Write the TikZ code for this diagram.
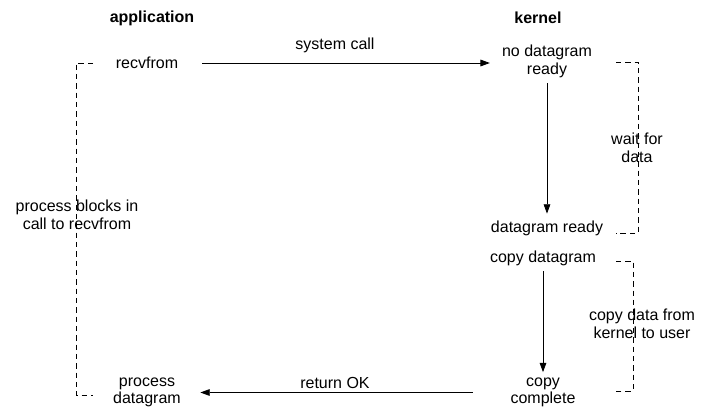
\documentclass[tikz,border=0pt]{standalone}
\usepackage{fontspec}
\setmainfont{Liberation Sans}
\usetikzlibrary{arrows.meta}

\tikzset{
  lbl/.style={align=center, inner sep=2pt},
  flow/.style={-{Triangle[length=7pt,width=5pt]}, line width=0.6pt},
  bracket/.style={dash pattern=on 4pt off 3pt, line width=0.6pt}
}

\begin{document}
\begin{tikzpicture}[x=0.75pt, y=-0.75pt, font=\fontsize{12}{13.2}\selectfont]

  \useasboundingbox (0,0) rectangle (704,417);

  \node[font=\fontsize{12}{13.2}\bfseries] (app) at (152,18) {application};
  \node[font=\fontsize{12}{13.2}\bfseries] (kern) at (538,18) {kernel};

  \node[lbl] (recv) at (147,63) {recvfrom};
  \node[lbl] (nodg) at (547,61.5) {no datagram\\ready};
  \node[lbl] (dgready) at (547,228) {datagram ready};
  \node[lbl] (copydg) at (543,258) {copy datagram};
  \node[lbl] (copydone) at (543,392.5) {copy\\complete};
  \node[lbl] (procdg) at (147,392.5) {process\\datagram};

  \node[lbl] (syscall) at (335,45) {system call};
  \node[lbl] (retok) at (335,383) {return OK};

  \node[lbl] (wait) at (637,148) {wait for\\data};
  \node[lbl] (copyku) at (642,324) {copy data from\\kernel to user};
  \node[lbl] (blocks) at (77,215) {process blocks in\\call to recvfrom};

  \draw[flow] ([xshift=16pt]recv.east) -- ([xshift=-7pt]nodg.west |- recv.east);
  \draw[flow] ([yshift=-2pt]nodg.south) -- ([yshift=3pt]dgready.north);
  \draw[flow] ([yshift=-2pt]copydg.south) -- ([yshift=2pt]copydone.north);
  \draw[flow] ([xshift=-26pt]copydone.west) -- ([xshift=12.5pt]procdg.east);

  % dashed brackets
  \draw[bracket] (93,63) -- (76,63) -- (76,395) -- (93,395);
  \draw[bracket] (616,62) -- (638,62) -- (638,233) -- (616,233);
  \draw[bracket] (616,261) -- (633,261) -- (633,391) -- (616,391);

\end{tikzpicture}
\end{document}
